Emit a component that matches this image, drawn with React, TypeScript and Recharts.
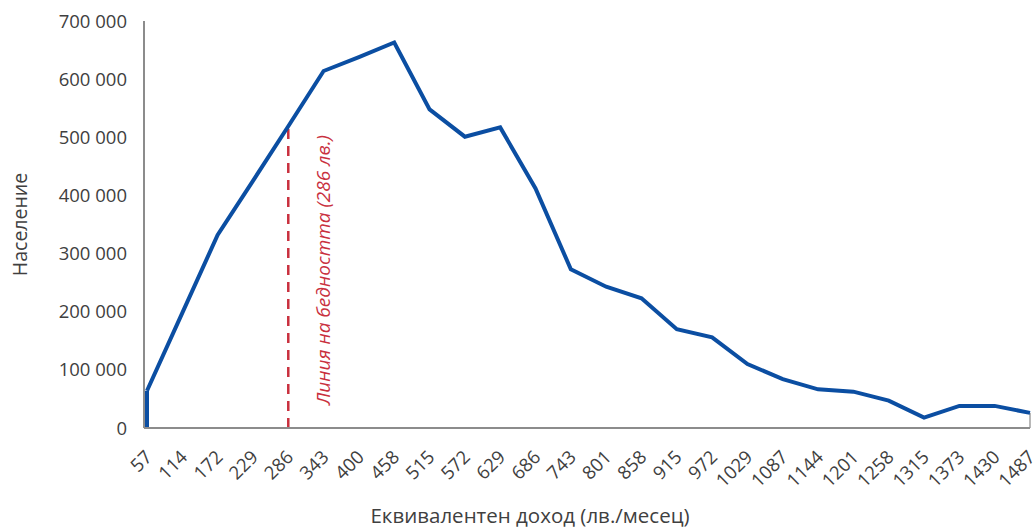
import React from 'react';
import { LineChart, Line, XAxis, YAxis, ReferenceLine } from 'recharts';

const incomeLabels = ['57','114','172','229','286','343','400','458','515','572','629','686','743','801','858','915','972','1029','1087','1144','1201','1258','1315','1373','1430','1487'];
const population = [64000,198000,332000,425000,519000,614000,638000,663000,548000,501000,517000,412000,273000,243000,223000,170000,156000,110000,84000,66500,62500,47000,18000,38000,38000,26000];
const yTicks = [0,100000,200000,300000,400000,500000,600000,700000];
const povertyLineLabel = '286';
const povertyText = 'Линия на бедността (286 лв.)';
const xTitle = 'Еквивалентен доход (лв./месец)';
const yTitle = 'Население';

const data = incomeLabels.map((x, i) => ({ x, v: population[i] }));

const FONT = '"Open Sans", "Noto Sans", sans-serif';
const BLUE = '#0b4ea2';
const RED = '#c9303e';
const GREY = '#404040';

const fmt = (v: number) => String(v).replace(/\B(?=(\d{3})+(?!\d))/g, ' ');

const povertyIndex = incomeLabels.indexOf(povertyLineLabel);

export default function App() {
  return (
    <div style={{ position: 'absolute', left: 0, top: 0, background: '#fff' }}>
      <LineChart width={1035} height={529} data={data} margin={{ top: 21, right: 5, bottom: 0, left: 0 }}>
        <XAxis
          dataKey="x"
          height={101}
          padding={{ left: 3, right: 0 }}
          tickLine={false}
          axisLine={{ stroke: '#8c8c8c', strokeWidth: 2 }}
          interval={0}
          angle={-45}
          textAnchor="end"
          tickMargin={15}
          tick={{ fill: GREY, fontSize: 18.5, fontFamily: FONT, dx: -3 }}
          label={{ value: xTitle, position: 'insideBottom', offset: 6, dx: -57, style: { fill: GREY, fontSize: 20.5, fontFamily: FONT } }}
        />
        <YAxis
          width={144}
          domain={[0, 700000]}
          ticks={yTicks}
          tickFormatter={fmt}
          tickLine={false}
          axisLine={{ stroke: '#8c8c8c', strokeWidth: 2 }}
          tickSize={0}
          tickMargin={17}
          tick={{ fill: GREY, fontSize: 18.5, fontFamily: FONT }}
          label={{ value: yTitle, angle: -90, position: 'insideLeft', offset: 20, style: { textAnchor: 'middle', fill: GREY, fontSize: 19.5, fontFamily: FONT } }}
        />
        <ReferenceLine
          segment={[{ x: incomeLabels[0], y: 0 }, { x: incomeLabels[0], y: population[0] }]}
          stroke={BLUE}
          strokeWidth={4}
        />
        <ReferenceLine
          segment={[{ x: incomeLabels[incomeLabels.length - 1], y: 0 }, { x: incomeLabels[incomeLabels.length - 1], y: population[population.length - 1] }]}
          stroke="#a0a0a0"
          strokeWidth={1.5}
        />
        <ReferenceLine
          segment={[{ x: povertyLineLabel, y: 0 }, { x: povertyLineLabel, y: population[povertyIndex] }]}
          stroke={RED}
          strokeWidth={2.5}
          strokeDasharray="10 7"
          label={(props: any) => {
            const vb = props.viewBox || {};
            const x = (vb.x ?? 0) + 35;
            const y = (vb.y ?? 0) + (vb.height ?? 0) - 23;
            return (
              <text
                x={x}
                y={y}
                transform={`rotate(-90 ${x} ${y})`}
                textAnchor="start"
                dominantBaseline="central"
                fill={RED}
                fontSize={19}
                fontStyle="italic"
                fontFamily={FONT}
              >
                {povertyText}
              </text>
            );
          }}
        />
        <Line type="linear" dataKey="v" stroke={BLUE} strokeWidth={4} dot={false} isAnimationActive={false} strokeLinejoin="miter" />
      </LineChart>
    </div>
  );
}
